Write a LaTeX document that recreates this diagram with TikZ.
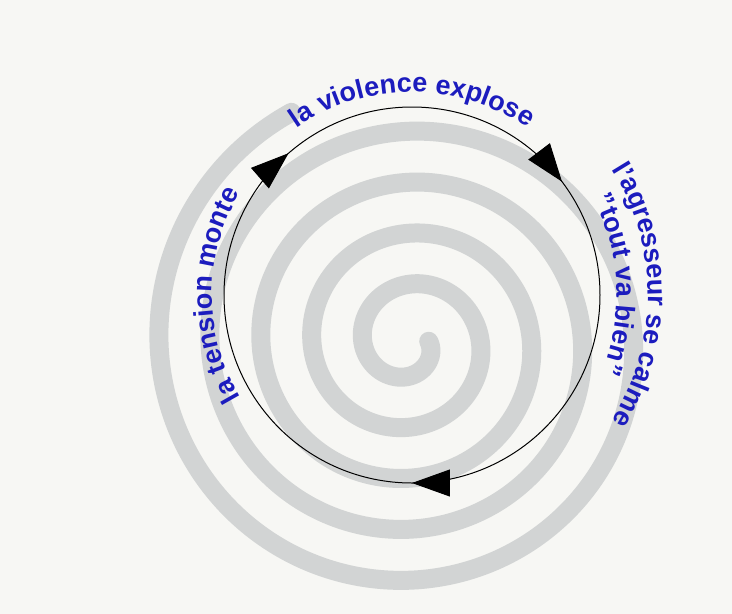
\documentclass[tikz,border=0pt]{standalone}
\usepackage{fontspec}
\setmainfont{Liberation Sans}
\usetikzlibrary{arrows.meta, decorations.text, decorations.markings}

\definecolor{paper}{RGB}{247,247,244}
\definecolor{swirlgray}{RGB}{210,212,212}
\definecolor{phaseblue}{RGB}{28,28,190}
\newcommand{\phasefont}{\fontsize{27}{31}\selectfont\bfseries\color{phaseblue}}

\begin{document}
\begin{tikzpicture}[
    x=1pt, y=1pt,
    swirl/.style={draw=swirlgray, line width=19pt, line cap=round},
    ring/.style={draw=black, line width=1pt},
    phase/.style={decorate, decoration={text along path, text align=center, text={|\phasefont|#1}}},
    >={Triangle[length=38pt, width=27pt]}
    ]
    \fill[paper] (0,0) rectangle (732,-614);
    \useasboundingbox (0,0) rectangle (732,-614);

    \coordinate (hub) at (412,-295);  % centre of the cycle
    \coordinate (core) at (409,-343); % centre of the spiral

    % spiral behind, 51pt per turn
    \draw[swirl, shift={(core)}] plot[domain=-1323:365, samples=600, smooth] (\x:{46+(180-\x)*0.141667});

    % the cycle
    \draw[ring, postaction={decorate}, decoration={markings,
        mark=at position 0.136 with {\arrow{>}},
        mark=at position 0.397 with {\arrow{>}},
        mark=at position 0.75 with {\arrow{>}}}]
        ([shift={(180:188)}]hub) arc[start angle=180, end angle=-180, radius=188];

    % phases
    \path[phase={la violence explose}] ([shift={(135:203)}]hub) arc[start angle=135, end angle=45, radius=203];
    \path[phase={l'agresseur se calme}] ([shift={(40:236)}]hub) arc[start angle=40, end angle=-40, radius=236];
    \path[phase={"tout va bien"}] ([shift={(33:205)}]hub) arc[start angle=33, end angle=-27, radius=205];
    \path[phase={la tension monte}] ([shift={(240:200)}]hub) arc[start angle=240, end angle=120, radius=200];
\end{tikzpicture}
\end{document}
